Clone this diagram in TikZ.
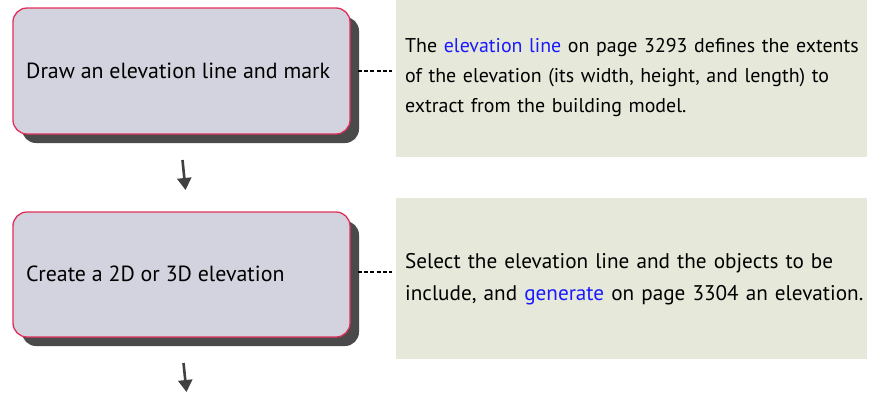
\documentclass[tikz,border=0pt]{standalone}
\usepackage{fontspec}
\setmainfont{PT Sans}
\usetikzlibrary{arrows.meta}
\definecolor{boxfill}{HTML}{D3D3DF}
\definecolor{boxedge}{HTML}{E0305A}
\definecolor{shade}{HTML}{4A4A4A}
\definecolor{notefill}{HTML}{E6E8DA}
\definecolor{linkblue}{HTML}{1A1AFF}
\definecolor{arrowgray}{HTML}{404040}
\tikzset{
  stepshadow/.style={fill=shade, rounded corners=14pt},
  stepbox/.style={draw=boxedge, line width=1.3pt, fill=boxfill, rounded corners=14pt},
  steplabel/.style={anchor=base west, inner sep=0pt, font=\fontsize{21.9}{26}\selectfont},
  notebox/.style={fill=notefill},
  notetext/.style={anchor=base west, inner sep=0pt, align=left, text width=480pt, font=\fontsize{19.9}{30}\selectfont},
  notetextb/.style={notetext, font=\fontsize{21.2}{32}\selectfont},
  connector/.style={draw=black, line width=1.2pt, dash pattern=on 4pt off 2.2pt},
  flowarrow/.style={draw=arrowgray, line width=2.6pt, -{Triangle[length=12pt,width=14pt]}}
}
\begin{document}
\begin{tikzpicture}[x=1pt,y=-1pt]
\useasboundingbox (0,0) rectangle (881,394);
% step 1
\fill[stepshadow] (22,17) rectangle (359,143);
\draw[stepbox] (13,8) rectangle (350,134);
\node[steplabel] (s1) at (26,78) {Draw an elevation line and mark};
\coordinate (s1e) at (358,71);
\fill[notebox] (396,0) rectangle (867,157);
\coordinate (n1w) at (392,71);
\node[notetext] (n1) at (405,52) {The \textcolor{linkblue}{elevation line} on page 3293 defines the extents\\of the elevation (its width, height, and length) to\\extract from the building model.};
\draw[connector] (s1e) -- (n1w);
% arrow 1
\coordinate (a1s) at (182.5,160);
\coordinate (a1e) at (185.5,190);
\draw[flowarrow] (a1s) -- (a1e);
% step 2
\fill[stepshadow] (22,221) rectangle (359,346);
\draw[stepbox] (13,212) rectangle (350,337);
\node[steplabel] (s2) at (26,281) {Create a 2D or 3D elevation};
\coordinate (s2e) at (358,272);
\fill[notebox] (396,198) rectangle (867,359);
\coordinate (n2w) at (392,272);
\node[notetextb] (n2) at (405,268) {Select the elevation line and the objects to be\\include, and \textcolor{linkblue}{generate} on page 3304 an elevation.};
\draw[connector] (s2e) -- (n2w);
% arrow 2
\coordinate (a2s) at (183.5,363);
\coordinate (a2e) at (186.5,392);
\draw[flowarrow] (a2s) -- (a2e);
\end{tikzpicture}
\end{document}
